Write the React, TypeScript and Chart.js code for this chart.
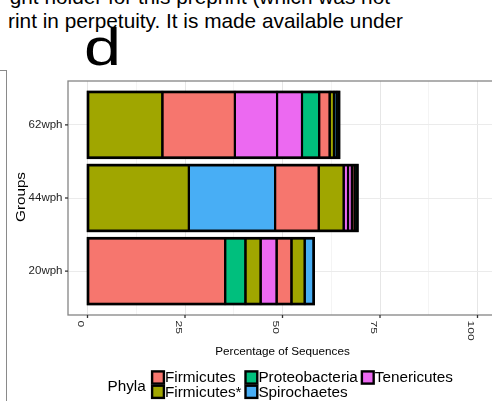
import React, { useEffect, useRef } from 'react';
import { Chart, registerables } from 'chart.js';

Chart.register(...registerables);

const FONT = "'Liberation Sans', Arial, Helvetica, sans-serif";

// Groups, bottom to top on the y axis
const groups = ['20wph', '44wph', '62wph'];

// Phyla and their fill colours (legend order)
const phyla = ['Firmicutes', 'Firmicutes*', 'Proteobacteria', 'Spirochaetes', 'Tenericutes'];
const phylaColors = ['#F6766E', '#A0A600', '#00BF7D', '#48AEF5', '#EC69F1'];

// Segments of each bar, left to right: percentage of sequences and phylum index
const values20 = [35.3, 5.2, 3.9, 4.1, 3.8, 3.4, 2.3];
const phyla20 = [0, 2, 1, 4, 0, 1, 3];
const values44 = [26.0, 22.1, 11.2, 6.4, 1.1, 1.0, 0.7, 0.7];
const phyla44 = [1, 3, 0, 1, 4, 4, 0, 2];
const values62 = [19.2, 18.6, 10.8, 6.4, 4.4, 2.7, 1.1, 0.7, 0.6];
const phyla62 = [1, 0, 4, 4, 2, 0, 1, 3, 2];

// x axis
const xMajorTicks = [0, 25, 50, 75, 100];
const xMinorTicks = [12.5, 37.5, 62.5, 87.5];

const xTitle = 'Percentage of Sequences';
const yTitle = 'Groups';
const legendTitle = 'Phyla';

const headerLine1 = 'ght holder for this preprint (which was not';
const headerLine2 = 'rint in perpetuity. It is made available under';
const panelLetter = 'd';

function buildDatasets() {
  const groupValues = [values20, values44, values62];
  const groupPhyla = [phyla20, phyla44, phyla62];
  const n = Math.max(...groupValues.map((v) => v.length));
  const datasets: any[] = [];
  for (let k = 0; k < n; k++) {
    const data: any[] = [];
    groupValues.forEach((vals, gi) => {
      if (k < vals.length) data.push({ x: vals[k], y: gi + 1, p: groupPhyla[gi][k] });
    });
    datasets.push({
      label: `segment ${k + 1}`,
      data,
      backgroundColor: (c: any) => phylaColors[c.raw ? c.raw.p : 0],
      borderWidth: 0,
      inflateAmount: 0,
      categoryPercentage: 0.9,
      barPercentage: 1,
    });
  }
  return datasets;
}

const decorPlugin = {
  id: 'panelDecor',
  afterDatasetsDraw(chart: any) {
    const ctx = chart.ctx;
    const boxes: Record<string, { l: number; r: number; t: number; b: number }> = {};
    ctx.save();
    ctx.strokeStyle = '#000000';
    ctx.lineWidth = 2.1;
    chart.data.datasets.forEach((d: any, di: number) => {
      const meta = chart.getDatasetMeta(di);
      meta.data.forEach((el: any, j: number) => {
        const key = String(d.data[j].y);
        const { x, y, base, height } = el.getProps(['x', 'y', 'base', 'height'], true);
        const l = Math.min(x, base);
        const r = Math.max(x, base);
        const t = y - height / 2;
        // outline of each segment, centred on its edges
        ctx.strokeRect(l, t, r - l, height);
        const box = boxes[key] || (boxes[key] = { l, r, t, b: t + height });
        box.l = Math.min(box.l, l);
        box.r = Math.max(box.r, r);
      });
    });
    // heavier outline around each full stacked bar
    ctx.lineWidth = 2.6;
    Object.values(boxes).forEach((b) => ctx.strokeRect(b.l, b.t, b.r - b.l, b.b - b.t));
    ctx.restore();
  },
  afterDraw(chart: any) {
    const ctx = chart.ctx;
    const area = chart.chartArea;
    const xs = chart.scales.x;
    const ys = chart.scales.y;
    ctx.save();

    // panel border
    ctx.strokeStyle = '#858585';
    ctx.lineWidth = 1.3;
    ctx.strokeRect(area.left, area.top, area.right - area.left, area.bottom - area.top);

    // axis ticks
    ctx.strokeStyle = '#333333';
    ctx.lineWidth = 1.3;
    xMajorTicks.forEach((v) => {
      const px = xs.getPixelForValue(v);
      ctx.beginPath();
      ctx.moveTo(px, area.bottom);
      ctx.lineTo(px, area.bottom + 3);
      ctx.stroke();
    });
    groups.forEach((_, i) => {
      const py = ys.getPixelForValue(i + 1);
      ctx.beginPath();
      ctx.moveTo(area.left - 3, py);
      ctx.lineTo(area.left, py);
      ctx.stroke();
    });

    // y tick labels
    ctx.fillStyle = '#1f1f1f';
    ctx.font = `11.5px ${FONT}`;
    ctx.textAlign = 'right';
    ctx.textBaseline = 'middle';
    groups.forEach((g, i) => {
      ctx.fillText(g, area.left - 5.5, ys.getPixelForValue(i + 1));
    });

    // x tick labels, turned to read downwards
    ctx.font = `8.8px ${FONT}`;
    ctx.textAlign = 'left';
    ctx.textBaseline = 'alphabetic';
    xMajorTicks.forEach((v) => {
      const px = xs.getPixelForValue(v);
      ctx.save();
      ctx.translate(px - 9.3, area.bottom + 5.5);
      ctx.rotate(Math.PI / 2);
      ctx.scale(1.38, 1);
      ctx.fillText(String(v), 0, 0);
      ctx.restore();
    });

    // axis titles
    ctx.fillStyle = '#000000';
    ctx.font = `11.7px ${FONT}`;
    ctx.textAlign = 'center';
    ctx.textBaseline = 'middle';
    ctx.fillText(xTitle, (area.left + area.right) / 2, area.bottom + 36.5);

    ctx.save();
    ctx.font = `11.9px ${FONT}`;
    ctx.textBaseline = 'alphabetic';
    ctx.translate(25.2, (area.top + area.bottom) / 2 - 1);
    ctx.rotate(-Math.PI / 2);
    ctx.scale(1.28, 1);
    ctx.fillText(yTitle, 0, 0);
    ctx.restore();

    // legend: title, then keys filled column by column in two rows
    ctx.font = `15.3px ${FONT}`;
    ctx.textAlign = 'left';
    ctx.textBaseline = 'alphabetic';
    ctx.fillStyle = '#000000';
    ctx.fillText(legendTitle, 107.5, 390.5);
    const keyW = 11.8;
    const keyH = 12.2;
    const rowTop = [371.4, 385.7];
    const rowBase = [382.2, 396.8];
    let cx = 152.1;
    for (let col = 0; col * 2 < phyla.length; col++) {
      let maxW = 0;
      for (let r = 0; r < 2; r++) {
        const i = col * 2 + r;
        if (i >= phyla.length) continue;
        ctx.fillStyle = phylaColors[i];
        ctx.fillRect(cx, rowTop[r], keyW, keyH);
        ctx.strokeStyle = '#000000';
        ctx.lineWidth = 2.4;
        ctx.strokeRect(cx, rowTop[r], keyW, keyH);
        ctx.fillStyle = '#000000';
        ctx.fillText(phyla[i], cx + keyW + 1.1, rowBase[r]);
        maxW = Math.max(maxW, ctx.measureText(phyla[i]).width);
      }
      cx += keyW + 1.1 + maxW + 4;
    }
    ctx.restore();
  },
};

export default function App() {
  const canvasRef = useRef<HTMLCanvasElement | null>(null);

  useEffect(() => {
    const canvas = canvasRef.current;
    if (!canvas) return;
    const allXTicks = [...xMajorTicks, ...xMinorTicks].sort((a, b) => a - b);
    const chart = new Chart(canvas, {
      type: 'bar',
      data: { datasets: buildDatasets() },
      options: {
        indexAxis: 'y',
        animation: false,
        responsive: false,
        devicePixelRatio: 1,
        layout: { padding: { left: 68, top: 81, right: 23, bottom: 86 } },
        plugins: {
          legend: { display: false },
          tooltip: { enabled: false },
          title: { display: false },
        },
        scales: {
          x: {
            type: 'linear',
            min: -5,
            max: 105,
            offset: false,
            stacked: true,
            afterBuildTicks: (s: any) => {
              s.ticks = allXTicks.map((v) => ({ value: v }));
            },
            ticks: { display: false },
            border: { display: false },
            grid: {
              offset: false,
              drawTicks: false,
              color: (c: any) =>
                c.tick && xMajorTicks.includes(c.tick.value) ? '#E6E6E6' : '#F4F4F4',
              lineWidth: 1,
            },
          },
          y: {
            type: 'linear',
            min: 0.4,
            max: 3.6,
            offset: false,
            stacked: true,
            afterBuildTicks: (s: any) => {
              s.ticks = groups.map((_, i) => ({ value: i + 1 }));
            },
            ticks: { display: false },
            border: { display: false },
            grid: { offset: false, drawTicks: false, color: '#EBEBEB', lineWidth: 1 },
          },
        },
      } as any,
      plugins: [decorPlugin],
    });
    return () => chart.destroy();
  }, []);

  const textStyle: React.CSSProperties = {
    position: 'absolute',
    whiteSpace: 'nowrap',
    font: `20.8px ${FONT}`,
    lineHeight: 1,
    color: '#000',
  };

  return (
    <div
      style={{
        position: 'fixed',
        left: 0,
        top: 0,
        width: 492,
        height: 401,
        overflow: 'hidden',
        background: '#fff',
      }}
    >
      <div style={{ ...textStyle, right: 492 - 390, top: -12.6 }}>{headerLine1}</div>
      <div style={{ ...textStyle, right: 492 - 403, top: 10.7 }}>{headerLine2}</div>
      <div
        style={{
          position: 'absolute',
          left: 83.7,
          top: 20.5,
          font: `52px ${FONT}`,
          lineHeight: 1,
          color: '#000',
          transform: 'scaleX(1.28)',
          transformOrigin: 'left top',
        }}
      >
        {panelLetter}
      </div>
      <div
        style={{
          position: 'absolute',
          left: -3,
          top: 69.5,
          width: 8.5,
          height: 400,
          borderTop: '1.3px solid #8a8a8a',
          borderRight: '1.3px solid #8a8a8a',
        }}
      />
      <canvas
        ref={canvasRef}
        width={520}
        height={401}
        style={{ position: 'absolute', left: 0, top: 0, width: 520, height: 401 }}
      />
    </div>
  );
}
